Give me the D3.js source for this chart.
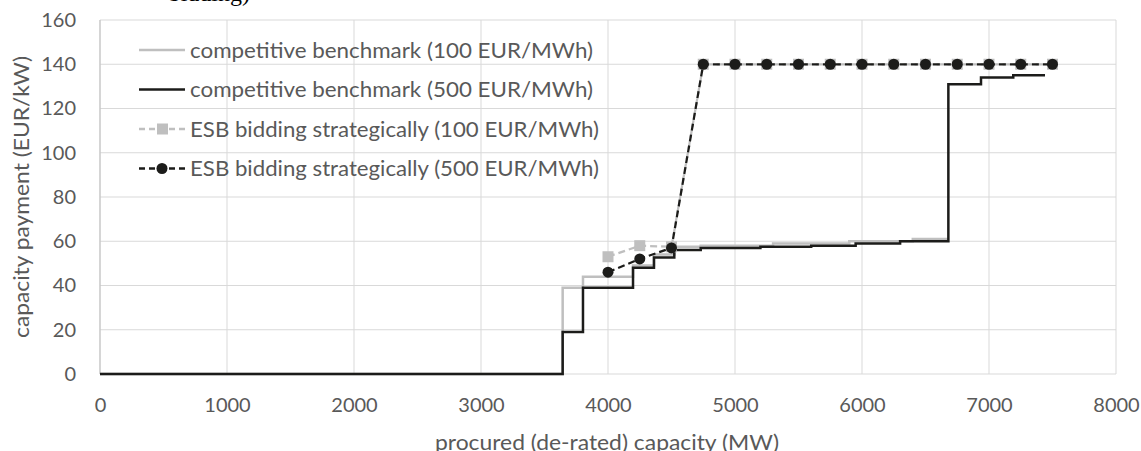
<!DOCTYPE html>
<html>
<head>
<meta charset="utf-8">
<script src="https://cdn.jsdelivr.net/npm/d3@7"></script>
<style>
  body { margin: 0; background: #fff; }
  svg { display: block; font-family: Lato, "Open Sans", sans-serif; }
</style>
</head>
<body>
<div id="chart"></div>
<script>
// step curves (MW, EUR/kW)
var comp100X = [0, 3643, 3643, 3803, 3803, 4197, 4197, 4362, 4362, 4522, 4522, 4730, 4730, 5300, 5300, 5900, 5900, 6400, 6400, 6680];
var comp100Y = [0, 0, 39, 39, 44, 44, 49, 49, 54, 54, 57.5, 57.5, 58, 58, 59, 59, 60, 60, 61, 61];

var comp500X = [0, 3643, 3643, 3803, 3803, 4197, 4197, 4362, 4362, 4522, 4522, 4730, 4730, 5200, 5200, 5600, 5600, 5950, 5950, 6300, 6300, 6680, 6680, 6937, 6937, 7191, 7191, 7441];
var comp500Y = [0, 0, 19, 19, 39, 39, 48, 48, 52.6, 52.6, 56, 56, 57, 57, 57.5, 57.5, 58, 58, 59, 59, 60, 60, 131, 131, 134, 134, 135, 135];

var esbX = [4000, 4250, 4500, 4750, 5000, 5250, 5500, 5750, 6000, 6250, 6500, 6750, 7000, 7250, 7500];
var esb100Y = [53, 58, 57.5, 140, 140, 140, 140, 140, 140, 140, 140, 140, 140, 140, 140];
var esb500Y = [46, 52, 57, 140, 140, 140, 140, 140, 140, 140, 140, 140, 140, 140, 140];

var xTicks = [0, 1000, 2000, 3000, 4000, 5000, 6000, 7000, 8000];
var yTicks = [0, 20, 40, 60, 80, 100, 120, 140, 160];

var legendLabels = [
  "competitive benchmark (100 EUR/MWh)",
  "competitive benchmark (500 EUR/MWh)",
  "ESB bidding strategically (100 EUR/MWh)",
  "ESB bidding strategically (500 EUR/MWh)"
];

var W = 1141, H = 451;
var mL = 100, mR = 1116, mT = 20, mB = 374;
var grey = "#bfbfbf", black = "#1c1c1a", textCol = "#595959";

var svg = d3.select("#chart").append("svg").attr("width", W).attr("height", H);

var x = d3.scaleLinear().domain([0, 8000]).range([mL, mR]);
var y = d3.scaleLinear().domain([0, 160]).range([mB, mT]);

// bottom of a caption line from the page above the chart, cut off
svg.append("text").attr("x", 250).attr("y", 1).attr("text-anchor", "end")
  .style("font-family", "'Liberation Serif', serif").style("font-size", "24px").attr("fill", "#000")
  .text("bidding)");

// gridlines
svg.append("g").selectAll("line").data(yTicks).enter().append("line")
  .attr("x1", mL).attr("x2", mR)
  .attr("y1", function(d) { return y(d); }).attr("y2", function(d) { return y(d); })
  .attr("stroke", "#d9d9d9").attr("stroke-width", 1);
svg.append("g").selectAll("line").data(xTicks).enter().append("line")
  .attr("y1", mT).attr("y2", mB)
  .attr("x1", function(d) { return x(d); }).attr("x2", function(d) { return x(d); })
  .attr("stroke", "#d9d9d9").attr("stroke-width", 1);
svg.append("line").attr("x1", mL).attr("x2", mL).attr("y1", mT).attr("y2", mB)
  .attr("stroke", "#bfbfbf");

// axes (labels only)
var xAxis = svg.append("g").attr("transform", "translate(0," + mB + ")")
  .call(d3.axisBottom(x).tickValues(xTicks).tickFormat(d3.format("d")).tickSize(0).tickPadding(24));
var yAxis = svg.append("g").attr("transform", "translate(" + mL + ",0)")
  .call(d3.axisLeft(y).tickValues(yTicks).tickFormat(d3.format("d")).tickSize(0).tickPadding(24));
[xAxis, yAxis].forEach(function(a) {
  a.select(".domain").remove();
  a.selectAll("text").attr("fill", textCol).style("font-size", "20px").style("font-family", "Lato, sans-serif");
});

svg.append("text").attr("x", 607).attr("y", 450)
  .attr("text-anchor", "middle").attr("fill", textCol).style("font-size", "21px")
  .attr("textLength", 344).attr("lengthAdjust", "spacingAndGlyphs")
  .text("procured (de-rated) capacity (MW)");
svg.append("text").attr("transform", "translate(29,197) rotate(-90)")
  .attr("text-anchor", "middle").attr("fill", textCol).style("font-size", "21px")
  .attr("textLength", 282).attr("lengthAdjust", "spacingAndGlyphs")
  .text("capacity payment (EUR/kW)");

var line = d3.line().x(function(d) { return x(d[0]); }).y(function(d) { return y(d[1]); });
function pairs(xs, ys) { return xs.map(function(v, i) { return [v, ys[i]]; }); }

svg.append("path").datum(pairs(comp100X, comp100Y)).attr("d", line)
  .attr("fill", "none").attr("stroke", grey).attr("stroke-width", 2.5);
svg.append("path").datum(pairs(comp500X, comp500Y)).attr("d", line)
  .attr("fill", "none").attr("stroke", black).attr("stroke-width", 2.5);

var esb100 = pairs(esbX, esb100Y), esb500 = pairs(esbX, esb500Y);
svg.append("path").datum(esb100).attr("d", line)
  .attr("fill", "none").attr("stroke", grey).attr("stroke-width", 2.25).attr("stroke-dasharray", "7,4");
svg.append("g").selectAll("rect").data(esb100).enter().append("rect")
  .attr("x", function(d) { return x(d[0]) - 5.5; }).attr("y", function(d) { return y(d[1]) - 5.5; })
  .attr("width", 11).attr("height", 11).attr("fill", grey);
svg.append("path").datum(esb500).attr("d", line)
  .attr("fill", "none").attr("stroke", black).attr("stroke-width", 2.25).attr("stroke-dasharray", "7,4");
svg.append("g").selectAll("circle").data(esb500).enter().append("circle")
  .attr("cx", function(d) { return x(d[0]); }).attr("cy", function(d) { return y(d[1]); })
  .attr("r", 5.5).attr("fill", black);

// legend
var legWidths = [403, 403, 409, 409];
var leg = svg.append("g");
legendLabels.forEach(function(t, i) {
  var ly = 50 + i * 39.5;
  var col = (i % 2 === 0) ? grey : black;
  var g = leg.append("g");
  g.append("line").attr("x1", 139).attr("x2", 185).attr("y1", ly).attr("y2", ly)
    .attr("stroke", col).attr("stroke-width", 2.5)
    .attr("stroke-dasharray", i < 2 ? null : "6,4");
  if (i === 2) g.append("rect").attr("x", 157).attr("y", ly - 5.5).attr("width", 11).attr("height", 11).attr("fill", grey);
  if (i === 3) g.append("circle").attr("cx", 162).attr("cy", ly).attr("r", 5.5).attr("fill", black);
  g.append("text").attr("x", 190).attr("y", ly).attr("dy", "0.36em")
    .attr("fill", textCol).style("font-size", "21px")
    .attr("textLength", legWidths[i]).attr("lengthAdjust", "spacingAndGlyphs")
    .text(t);
});
</script>
</body>
</html>
